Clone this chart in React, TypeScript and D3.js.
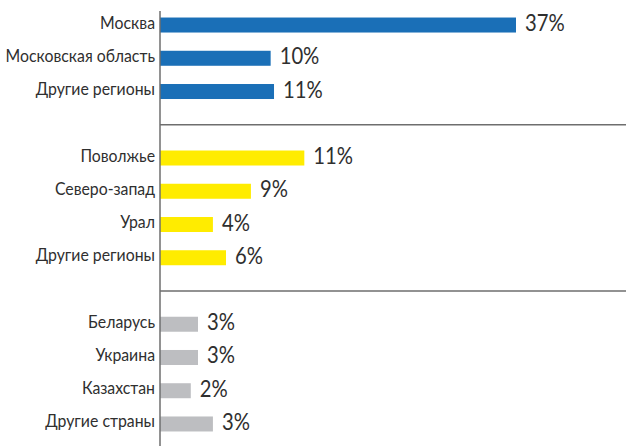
import React from "react";
import * as d3 from "d3";

// Categories in three groups (top to bottom)
const moscowCategories = ["Москва", "Московская область", "Другие регионы"];
const russiaCategories = ["Поволжье", "Северо-запад", "Урал", "Другие регионы"];
const foreignCategories = ["Беларусь", "Украина", "Казахстан", "Другие страны"];

// Labelled shares (%)
const moscowShares = [37, 10, 11];
const russiaShares = [11, 9, 4, 6];
const foreignShares = [3, 3, 2, 3];

// Bar lengths as drawn in the picture (same units as Moscow = 37)
const moscowBars = [37, 11.5, 11.85];
const russiaBars = [15, 9.45, 5.5, 6.86];
const foreignBars = [3.95, 3.95, 3.2, 5.5];

const groupColors = ["#1a6fb7", "#ffec00", "#bdbec1"];

type Row = { key: string; name: string; share: number; bar: number; group: number };

export default function App() {
  const W = 626;
  const H = 446;
  const axisX = 160;

  const groups = [
    { cats: moscowCategories, shares: moscowShares, bars: moscowBars },
    { cats: russiaCategories, shares: russiaShares, bars: russiaBars },
    { cats: foreignCategories, shares: foreignShares, bars: foreignBars },
  ];

  const rows: Row[] = [];
  const domain: string[] = [];
  const gaps: string[] = [];
  groups.forEach((g, gi) => {
    if (gi > 0) {
      const gk = `gap${gi}`;
      domain.push(gk);
      gaps.push(gk);
    }
    g.cats.forEach((c, i) => {
      const key = `${gi}-${i}`;
      domain.push(key);
      rows.push({ key, name: c, share: g.shares[i], bar: g.bars[i], group: gi });
    });
  });

  const y = d3.scalePoint<string>().domain(domain).range([8.4, 440.6]).padding(0.5);
  const x = d3.scaleLinear().domain([0, 37]).range([axisX, 516]);
  const barH = 15;
  const font = "Lato, 'DejaVu Sans Condensed', sans-serif";
  const textColor = "#2f2f2f";

  return (
    <svg
      width={W}
      height={H}
      style={{ position: "absolute", left: 0, top: 0, background: "#fff" }}
    >
      {rows.map((r) => {
        const cy = y(r.key)!;
        const lx = x(r.bar) + 9;
        return (
          <g key={r.key}>
            <rect
              x={x(0)}
              y={cy - barH / 2}
              width={x(r.bar) - x(0)}
              height={barH}
              fill={groupColors[r.group]}
            />
            <text
              transform={`translate(155,${cy + 3.5}) scale(0.88,1)`}
              textAnchor="end"
              fontFamily={font}
              fontSize={18}
              fill={textColor}
            >
              {r.name}
            </text>
            <text
              transform={`translate(${lx},${cy + 6}) scale(0.9,1)`}
              fontFamily={font}
              fontSize={22.5}
              fill={textColor}
            >
              {`${r.share}%`}
            </text>
          </g>
        );
      })}
      {gaps.map((g) => (
        <line
          key={g}
          x1={axisX}
          x2={W}
          y1={y(g)!}
          y2={y(g)!}
          stroke="#6e6e6e"
          strokeWidth={1.5}
        />
      ))}
      <line x1={axisX} x2={axisX} y1={11} y2={H} stroke="#6e6e6e" strokeWidth={1.5} />
    </svg>
  );
}
